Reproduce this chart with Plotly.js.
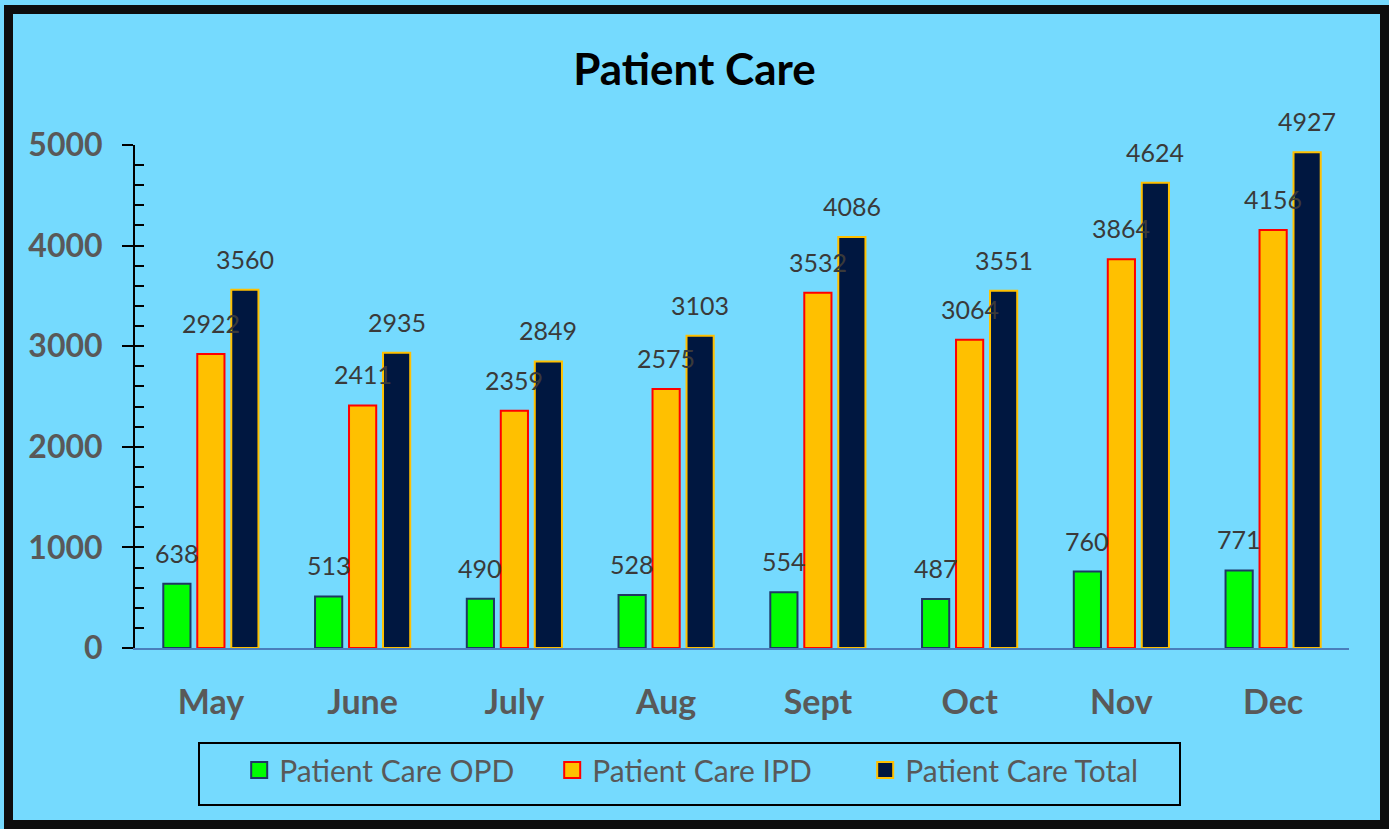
<!DOCTYPE html>
<html>
<head>
<meta charset="utf-8">
<script src="https://cdn.plot.ly/plotly-3.0.1.min.js"></script>
<style>
  html, body { margin:0; padding:0; background:#75DAFE; }
  #wrap { position:relative; width:1389px; height:829px; overflow:hidden; }
  #chart { position:absolute; left:0; top:0; width:1389px; height:829px; }
  #frame { position:absolute; left:4px; top:5px; width:1385px; height:824px; box-sizing:border-box;
           border:9px solid #0d0d0d; pointer-events:none; }
</style>
</head>
<body>
<div id="wrap">
  <div id="chart"></div>
  <div id="frame"></div>
</div>
<script>
const months = ['May','June','July','Aug','Sept','Oct','Nov','Dec'];
const opd   = [638, 513, 490, 528, 554, 487, 760, 771];
const ipd   = [2922, 2411, 2359, 2575, 3532, 3064, 3864, 4156];
const total = [3560, 2935, 2849, 3103, 4086, 3551, 4624, 4927];
const seriesNames = ['Patient Care OPD', 'Patient Care IPD', 'Patient Care Total'];

const FONT = 'Lato, "Open Sans", sans-serif';
const fills = ['#00FF00', '#FFC000', '#001740'];
const outlines = ['#1F3864', '#FF0000', '#FFC000'];
const series = [opd, ipd, total];

const traces = series.map((vals, i) => ({
  type: 'bar',
  name: seriesNames[i],
  x: months,
  y: vals,
  marker: { color: fills[i], line: { color: outlines[i], width: 2 } },
  showlegend: false,
  hoverinfo: 'skip'
}));

// legend-only entries with larger square swatches
seriesNames.forEach((nm, i) => {
  traces.push({
    type: 'scatter', mode: 'markers', name: nm,
    x: [null], y: [null],
    marker: { symbol: 'square', size: 16, color: fills[i], line: { color: outlines[i], width: 2 } },
    hoverinfo: 'skip'
  });
});

const shifts = [-34, 0, 34];
const annotations = [];
series.forEach((vals, i) => {
  vals.forEach((v, j) => {
    annotations.push({
      x: months[j], y: v, xref: 'x', yref: 'y',
      text: String(v), showarrow: false,
      xshift: shifts[i], yshift: 31,
      font: { family: FONT, size: 25, color: '#3a3a3a' }
    });
  });
});

const layout = {
  width: 1389, height: 829,
  paper_bgcolor: 'rgba(0,0,0,0)',
  plot_bgcolor: 'rgba(0,0,0,0)',
  margin: { l: 135, r: 40, t: 145, b: 181 },
  title: {
    text: '<b>Patient Care</b>',
    x: 0.5, xref: 'container', xanchor: 'center',
    y: 1 - 70/829, yref: 'container', yanchor: 'middle',
    font: { family: FONT, size: 44, color: '#000000' }
  },
  barmode: 'group',
  bargap: 0.328,
  bargroupgap: 0.2,
  showlegend: true,
  legend: {
    orientation: 'h',
    x: 0.0519, xanchor: 'left',
    y: -0.187, yanchor: 'top',
    bgcolor: 'rgba(0,0,0,0)',
    bordercolor: '#000000', borderwidth: 2,
    font: { family: FONT, size: 30, color: '#595959' },
    title: { text: '&nbsp;&nbsp;&nbsp;', font: { family: FONT, size: 38 } },
    valign: 'middle',
    entrywidth: 268,
    itemclick: false
  },
  xaxis: {
    type: 'category',
    range: [-0.5, 7.5],
    showline: true, linecolor: '#4A7EBB', linewidth: 2,
    ticks: '', showgrid: false, zeroline: false,
    ticklabelstandoff: 23,
    tickfont: { family: FONT, size: 34, color: '#595959', weight: 'bold' }
  },
  yaxis: {
    range: [0, 5000],
    dtick: 1000, tick0: 0,
    showline: true, linecolor: '#000000', linewidth: 2,
    ticks: 'outside', ticklen: 11, tickwidth: 2, tickcolor: '#000000',
    showgrid: false, zeroline: false,
    ticklabelstandoff: 13,
    tickfont: { family: FONT, size: 32, color: '#595959', weight: 'bold' }
  },
  yaxis2: {
    overlaying: 'y', side: 'left',
    range: [0, 5000],
    dtick: 200, tick0: 0,
    ticks: 'inside', ticklen: 9, tickwidth: 2, tickcolor: '#000000',
    showticklabels: false, showgrid: false, zeroline: false, showline: false
  },
  annotations: annotations
};

// invisible trace to activate yaxis2
traces.push({ type: 'scatter', x: [months[0]], y: [0], yaxis: 'y2', mode: 'markers',
  marker: { opacity: 0 }, showlegend: false, hoverinfo: 'skip' });

Plotly.newPlot('chart', traces, layout, { staticPlot: true, displayModeBar: false });
</script>
</body>
</html>
